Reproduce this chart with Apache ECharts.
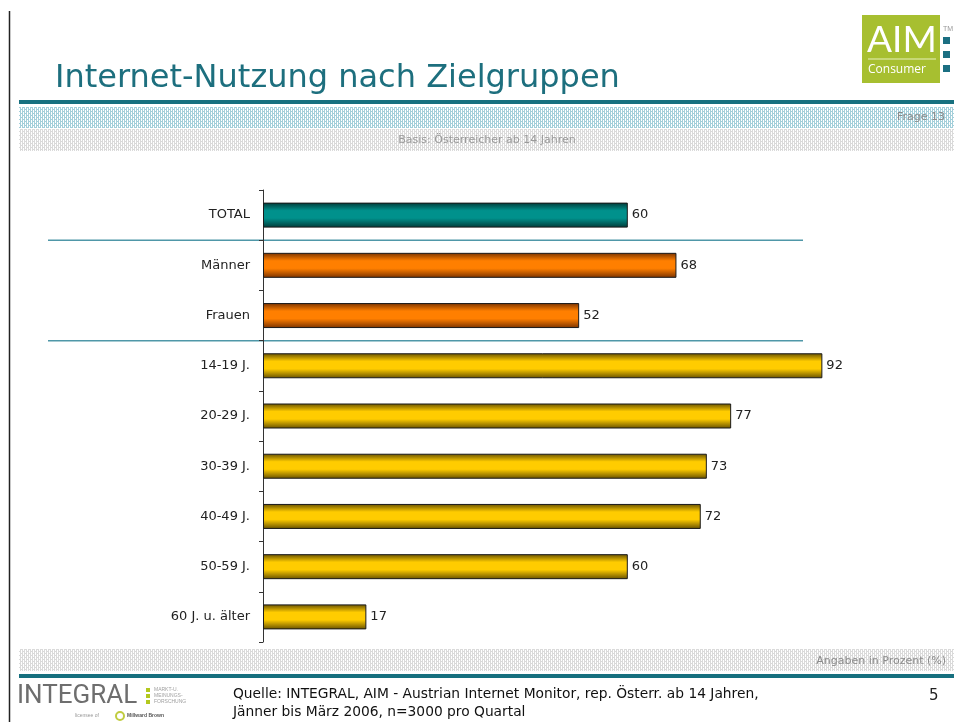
<!DOCTYPE html>
<html>
<head>
<meta charset="utf-8">
<script src="https://cdn.jsdelivr.net/npm/echarts@6/dist/echarts.min.js"></script>
<style>
  html, body { margin: 0; padding: 0; background: #fff; }
  #chart { width: 954px; height: 722px; }
</style>
</head>
<body>
<div id="chart"></div>
<script>
// Daten
const categories = ['TOTAL', 'Männer', 'Frauen', '14-19 J.', '20-29 J.', '30-39 J.', '40-49 J.', '50-59 J.', '60 J. u. älter'];
const values = [60, 68, 52, 92, 77, 73, 72, 60, 17];
const groups = ['total', 'geschlecht', 'geschlecht', 'alter', 'alter', 'alter', 'alter', 'alter', 'alter'];
const separatorsAfter = ['TOTAL', 'Frauen'];

const groupColors = {
  total: ['#003a38', '#00918c'],
  geschlecht: ['#7a3200', '#ff7f00'],
  alter: ['#665000', '#ffcc00']
};

const font = '"DejaVu Sans", Verdana, sans-serif';

const grad = (dark, light) => new echarts.graphic.LinearGradient(0, 0, 0, 1, [
  { offset: 0, color: dark },
  { offset: 0.32, color: light },
  { offset: 0.62, color: light },
  { offset: 1, color: dark }
]);

// Punktraster wie im Folienkopf
const stipple = (col) => {
  const cv = document.createElement('canvas');
  cv.width = 4; cv.height = 4;
  const ctx = cv.getContext('2d');
  ctx.fillStyle = '#ffffff'; ctx.fillRect(0, 0, 4, 4);
  ctx.fillStyle = col;
  ctx.fillRect(0, 0, 1, 4);
  ctx.fillRect(2, 0, 1, 4);
  ctx.fillRect(1, 1, 1, 1);
  ctx.fillRect(3, 3, 1, 1);
  return { image: cv, repeat: 'repeat' };
};

const chart = echarts.init(document.getElementById('chart'));

const option = {
  animation: false,
  textStyle: { fontFamily: font },
  grid: { left: 263, right: 83, top: 190, bottom: 80 },
  xAxis: {
    type: 'value', min: 0, max: 100,
    show: false
  },
  yAxis: {
    type: 'category',
    inverse: true,
    data: categories,
    axisLine: { lineStyle: { color: '#333', width: 1 } },
    axisTick: { show: true, length: 4, lineStyle: { color: '#333' } },
    axisLabel: { color: '#222', fontSize: 13, margin: 13, fontFamily: font }
  },
  series: [{
    type: 'bar',
    barWidth: 25,
    data: values.map((v, i) => ({
      value: v,
      itemStyle: { color: grad(groupColors[groups[i]][0], groupColors[groups[i]][1]) }
    })),
    itemStyle: { borderColor: '#1a1a1a', borderWidth: 1 },
    label: { show: true, position: 'right', distance: 4, color: '#222', fontSize: 13, fontFamily: font }
  }]
};
chart.setOption(option);

// Trennlinien zwischen den Gruppen
const sepLines = separatorsAfter.map((c, k) => {
  const i = categories.indexOf(c);
  const y = (chart.convertToPixel({ yAxisIndex: 0 }, categories[i]) + chart.convertToPixel({ yAxisIndex: 0 }, categories[i + 1])) / 2;
  return { type: 'line', id: 'sep' + k, shape: { x1: 48, y1: y, x2: 803, y2: y }, style: { stroke: '#4f97a8', lineWidth: 1.5 } };
});

chart.setOption({
  graphic: [
    ...sepLines,
    // linker Folienrand
    { type: 'line', shape: { x1: 9.5, y1: 11, x2: 9.5, y2: 722 }, style: { stroke: '#222', lineWidth: 1.5 } },
    // Titel
    { type: 'text', x: 55, y: 79, style: { text: 'Internet-Nutzung nach Zielgruppen', fill: '#1d6f7e', font: '32px ' + font, verticalAlign: 'middle' } },
    // AIM Logo
    { type: 'rect', shape: { x: 862, y: 15, width: 78, height: 68 }, style: { fill: '#a7bf30' } },
    { type: 'text', x: 867, y: 40, style: { text: 'AIM', fill: '#fff', font: '37px Lato, sans-serif', verticalAlign: 'middle' } },
    { type: 'line', shape: { x1: 868, y1: 59, x2: 936, y2: 59 }, style: { stroke: '#d2e08e', lineWidth: 1.5 } },
    { type: 'text', x: 868, y: 70, style: { text: 'Consumer', fill: '#fff', font: '12px "Open Sans", sans-serif', verticalAlign: 'middle' } },
    { type: 'rect', shape: { x: 943, y: 37, width: 7, height: 7 }, style: { fill: '#1b6f82' } },
    { type: 'rect', shape: { x: 943, y: 51, width: 7, height: 7 }, style: { fill: '#1b6f82' } },
    { type: 'rect', shape: { x: 943, y: 65, width: 7, height: 7 }, style: { fill: '#1b6f82' } },
    { type: 'text', x: 943, y: 26, style: { text: 'TM', fill: '#999', font: '7px sans-serif' } },
    // Kopfband
    { type: 'rect', shape: { x: 19, y: 100, width: 935, height: 4 }, style: { fill: '#17707f' } },
    { type: 'rect', shape: { x: 19, y: 107, width: 935, height: 21 }, style: { fill: stipple('#a4cfda') } },
    { type: 'rect', shape: { x: 19, y: 129, width: 935, height: 22 }, style: { fill: stipple('#dadada') } },
    { type: 'text', x: 945, y: 117, style: { text: 'Frage 13', fill: '#8a8a8a', font: '11px ' + font, align: 'right', verticalAlign: 'middle' } },
    { type: 'text', x: 487, y: 140, style: { text: 'Basis: Österreicher ab 14 Jahren', fill: '#9a9a9a', font: '11px ' + font, align: 'center', verticalAlign: 'middle' } },
    // Fußband
    { type: 'rect', shape: { x: 19, y: 649, width: 935, height: 22 }, style: { fill: stipple('#dadada') } },
    { type: 'text', x: 946, y: 661, style: { text: 'Angaben in Prozent (%)', fill: '#8a8a8a', font: '11px ' + font, align: 'right', verticalAlign: 'middle' } },
    { type: 'rect', shape: { x: 19, y: 674, width: 935, height: 4 }, style: { fill: '#17707f' } },
    // INTEGRAL Logo
    { type: 'text', x: 17, y: 683, style: { text: 'INTEGRAL', fill: '#6e6e6e', font: '26px Roboto, sans-serif' } },
    { type: 'rect', shape: { x: 146, y: 688, width: 4, height: 4 }, style: { fill: '#b3c81e' } },
    { type: 'rect', shape: { x: 146, y: 694, width: 4, height: 4 }, style: { fill: '#b3c81e' } },
    { type: 'rect', shape: { x: 146, y: 700, width: 4, height: 4 }, style: { fill: '#b3c81e' } },
    { type: 'text', x: 154, y: 687, style: { text: 'MARKT-U.\nMEINUNGS-\nFORSCHUNG', fill: '#a0a0a0', font: '5px sans-serif', lineHeight: 6 } },
    { type: 'text', x: 75, y: 713, style: { text: 'licensee of', fill: '#999', font: '5px sans-serif' } },
    { type: 'circle', shape: { cx: 120, cy: 716, r: 4 }, style: { fill: 'none', stroke: '#c0cc40', lineWidth: 2 } },
    { type: 'text', x: 127, y: 713, style: { text: 'Millward Brown', fill: '#555', font: 'bold 5px sans-serif' } },
    // Quelle
    { type: 'text', x: 233, y: 685, style: { text: 'Quelle: INTEGRAL, AIM - Austrian Internet Monitor, rep. Österr. ab 14 Jahren,\nJänner bis März 2006, n=3000 pro Quartal', fill: '#111', font: '13.8px ' + font, lineHeight: 18 } },
    { type: 'text', x: 929, y: 689, style: { text: '5', fill: '#222', font: '15px ' + font } }
  ]
});
</script>
</body>
</html>
